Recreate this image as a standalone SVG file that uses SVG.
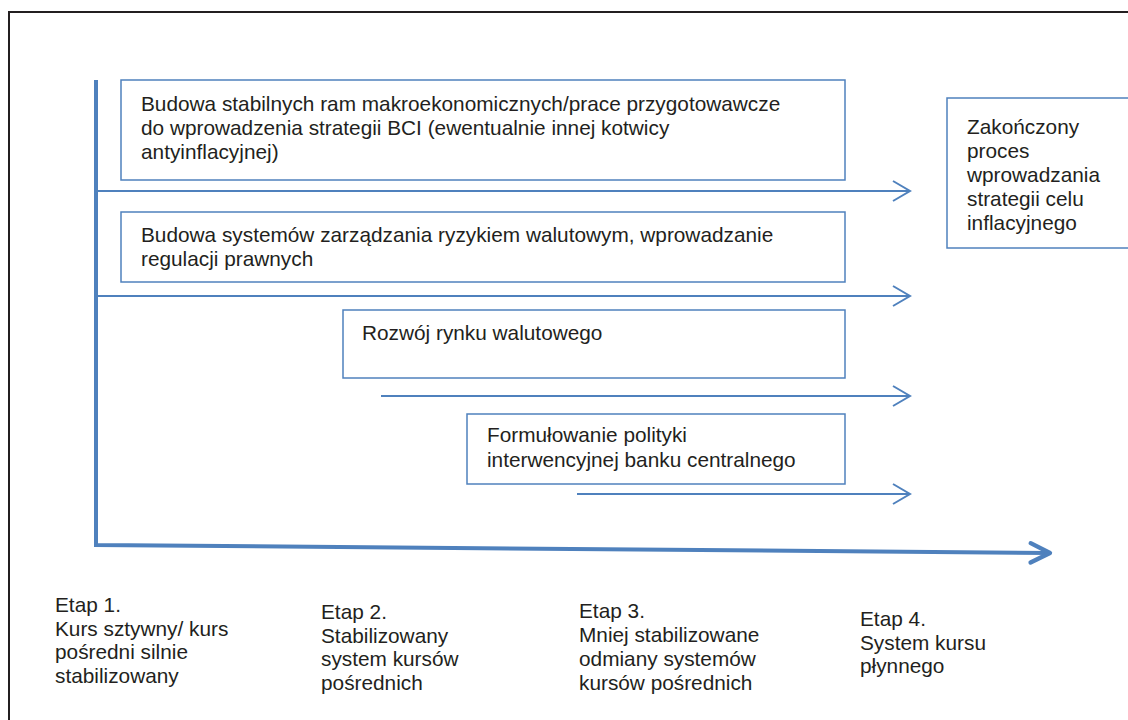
<svg xmlns="http://www.w3.org/2000/svg" width="1128" height="720" viewBox="0 0 1128 720">
<style>
text{font-family:"Liberation Sans",Arial,sans-serif;font-size:20.8px;fill:#231f20}
.box{fill:#fff;stroke:#4f81bd;stroke-width:1.5}
.thin{stroke:#4f81bd;stroke-width:2;fill:none}
.thick{stroke:#4f81bd;stroke-width:4;fill:none}
</style>
<defs>
<marker id="open" markerUnits="userSpaceOnUse" markerWidth="24" markerHeight="24" viewBox="-20 -12 24 24" refX="0" refY="0" orient="auto">
<path d="M-17,-10 L0,0 L-17,10" fill="none" stroke="#4f81bd" stroke-width="2"/>
</marker>
<marker id="openThick" markerUnits="userSpaceOnUse" markerWidth="28" markerHeight="28" viewBox="-22 -13 26 26" refX="0" refY="0" orient="auto">
<path d="M-18,-9 L0,0 L-18,9" fill="none" stroke="#4f81bd" stroke-width="4" stroke-linecap="round" stroke-linejoin="round"/>
</marker>
</defs>
<rect x="9" y="12" width="1130" height="720" fill="#fff" stroke="#231f20" stroke-width="2"/>
<g id="connectors">
<path class="thin" d="M97,191 L910,191" marker-end="url(#open)"/>
<path class="thin" d="M97,296 L910,296" marker-end="url(#open)"/>
<path class="thin" d="M381,396 L910,396" marker-end="url(#open)"/>
<path class="thin" d="M577,494 L910,494" marker-end="url(#open)"/>
<path class="thick" d="M96,80 L96,545 L1050,553" marker-end="url(#openThick)"/>
</g>
<g id="node1">
<rect class="box" x="121" y="80" width="724" height="100"/>
<text x="141" y="111">Budowa stabilnych ram makroekonomicznych/prace przygotowawcze</text>
<text x="141" y="135">do wprowadzenia strategii BCI (ewentualnie innej kotwicy</text>
<text x="141" y="159">antyinflacyjnej)</text>
</g>
<g id="node2">
<rect class="box" x="121" y="212" width="724" height="70"/>
<text x="141" y="242">Budowa systemów zarządzania ryzykiem walutowym, wprowadzanie</text>
<text x="141" y="266">regulacji prawnych</text>
</g>
<g id="node3">
<rect class="box" x="343" y="310" width="502" height="68"/>
<text x="362" y="340">Rozwój rynku walutowego</text>
</g>
<g id="node4">
<rect class="box" x="467" y="414" width="378" height="70"/>
<text x="487" y="442">Formułowanie polityki</text>
<text x="487" y="467">interwencyjnej banku centralnego</text>
</g>
<g id="node5">
<rect class="box" x="947" y="98" width="200" height="150"/>
<text x="967" y="134">Zakończony</text>
<text x="967" y="158">proces</text>
<text x="967" y="182">wprowadzania</text>
<text x="967" y="206">strategii celu</text>
<text x="967" y="230">inflacyjnego</text>
</g>
<g id="etap1">
<text x="55" y="612">Etap 1.</text>
<text x="55" y="636">Kurs sztywny/ kurs</text>
<text x="55" y="659">pośredni silnie</text>
<text x="55" y="683">stabilizowany</text>
</g>
<g id="etap2">
<text x="321" y="619">Etap 2.</text>
<text x="321" y="643">Stabilizowany</text>
<text x="321" y="666">system kursów</text>
<text x="321" y="690">pośrednich</text>
</g>
<g id="etap3">
<text x="579" y="618">Etap 3.</text>
<text x="579" y="642">Mniej stabilizowane</text>
<text x="579" y="666">odmiany systemów</text>
<text x="579" y="690">kursów pośrednich</text>
</g>
<g id="etap4">
<text x="860" y="626">Etap 4.</text>
<text x="860" y="650">System kursu</text>
<text x="860" y="673">płynnego</text>
</g>
</svg>
